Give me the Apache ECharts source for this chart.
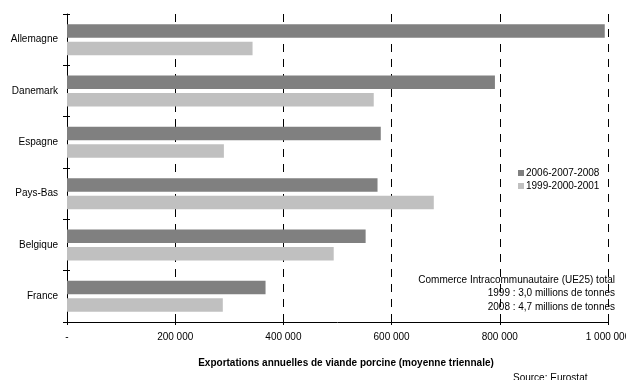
<!DOCTYPE html>
<html>
<head>
<meta charset="utf-8">
<script src="https://cdn.jsdelivr.net/npm/echarts@6/dist/echarts.min.js"></script>
<style>
  html, body { margin: 0; padding: 0; background: #fff; }
  #chart { width: 626px; height: 380px; }
</style>
</head>
<body>
<div id="chart"></div>
<script>
// Pays exportateurs (de haut en bas)
const countries = ['Allemagne', 'Danemark', 'Espagne', 'Pays-Bas', 'Belgique', 'France'];
// Exportations annuelles de viande porcine, tonnes (moyennes triennales)
const exports2006_2008 = [994000, 791000, 580000, 574000, 552000, 367000];
const exports1999_2001 = [343000, 567000, 290000, 678000, 493000, 288000];
const seriesNames = ['2006-2007-2008', '1999-2000-2001'];
const xTicks = [0, 200000, 400000, 600000, 800000, 1000000];
const noteLines = [
  'Commerce Intracommunautaire (UE25) total',
  '1999 : 3,0 millions de tonnes',
  '2008 : 4,7 millions de tonnes'
];
const axisTitle = 'Exportations annuelles de viande porcine (moyenne triennale)';
const sourceText = 'Source: Eurostat';

const FONT = '"Liberation Sans", Arial, sans-serif';

function fmt(v) {
  if (v === 0) return '-';
  return String(Math.round(v)).replace(/\B(?=(\d{3})+(?!\d))/g, ' ');
}

const valueAxisBase = {
  type: 'value',
  min: xTicks[0],
  max: xTicks[xTicks.length - 1],
  interval: xTicks[1] - xTicks[0]
};

const chart = echarts.init(document.getElementById('chart'), null, { renderer: 'canvas' });
chart.setOption({
  animation: false,
  backgroundColor: '#fff',
  textStyle: { fontFamily: FONT },
  grid: { left: 67, right: 18, top: 14, bottom: 58, containLabel: false, outerBoundsMode: 'none' },
  legend: {
    orient: 'vertical',
    left: 513,
    top: 163,
    itemWidth: 6,
    itemHeight: 6,
    itemGap: 3,
    icon: 'rect',
    selectedMode: false,
    textStyle: { fontFamily: FONT, fontSize: 10, color: '#000', padding: [0, 0, 0, -3] },
    data: seriesNames
  },
  xAxis: [
    Object.assign({}, valueAxisBase, {
      position: 'bottom',
      axisLine: { show: true, lineStyle: { color: '#000', width: 1 } },
      axisTick: { show: true, length: 3, lineStyle: { color: '#000' } },
      axisLabel: { formatter: fmt, fontFamily: FONT, fontSize: 10, color: '#000', margin: 10 },
      splitLine: { show: true, lineStyle: { color: '#000', width: 1, type: [8, 7] } }
    }),
    Object.assign({}, valueAxisBase, {
      position: 'bottom',
      axisLine: { show: false },
      axisTick: { show: true, inside: true, length: 3, lineStyle: { color: '#000' } },
      axisLabel: { show: false },
      splitLine: { show: false }
    })
  ],
  yAxis: [
    {
      type: 'category',
      data: countries,
      inverse: true,
      axisLine: { show: true, lineStyle: { color: '#000', width: 1 } },
      axisTick: { show: true, length: 4, lineStyle: { color: '#000' } },
      axisLabel: { fontFamily: FONT, fontSize: 10, color: '#000', margin: 9 },
      splitLine: { show: false }
    },
    {
      type: 'category',
      data: countries,
      inverse: true,
      position: 'left',
      axisLine: { show: false },
      axisTick: { show: true, inside: true, length: 3, lineStyle: { color: '#000' } },
      axisLabel: { show: false },
      splitLine: { show: false }
    }
  ],
  series: [
    {
      name: seriesNames[0],
      type: 'bar',
      data: exports2006_2008,
      barWidth: 13.5,
      barGap: '30%',
      itemStyle: { color: '#808080' }
    },
    {
      name: seriesNames[1],
      type: 'bar',
      data: exports1999_2001,
      barWidth: 13.5,
      barGap: '30%',
      itemStyle: { color: '#c0c0c0' }
    }
  ],
  graphic: [
    {
      type: 'text',
      z: -1,
      x: 615,
      y: 273,
      style: {
        text: noteLines.join('\n'),
        font: '10px ' + FONT,
        fill: '#000',
        align: 'right',
        lineHeight: 13.8
      }
    },
    {
      type: 'text',
      x: 346,
      y: 363,
      style: {
        text: axisTitle,
        font: 'bold 10px ' + FONT,
        fill: '#000',
        align: 'center',
        verticalAlign: 'middle'
      }
    },
    {
      type: 'text',
      x: 513,
      y: 373,
      style: {
        text: sourceText,
        font: '10px ' + FONT,
        fill: '#000'
      }
    }
  ]
});
</script>
</body>
</html>
